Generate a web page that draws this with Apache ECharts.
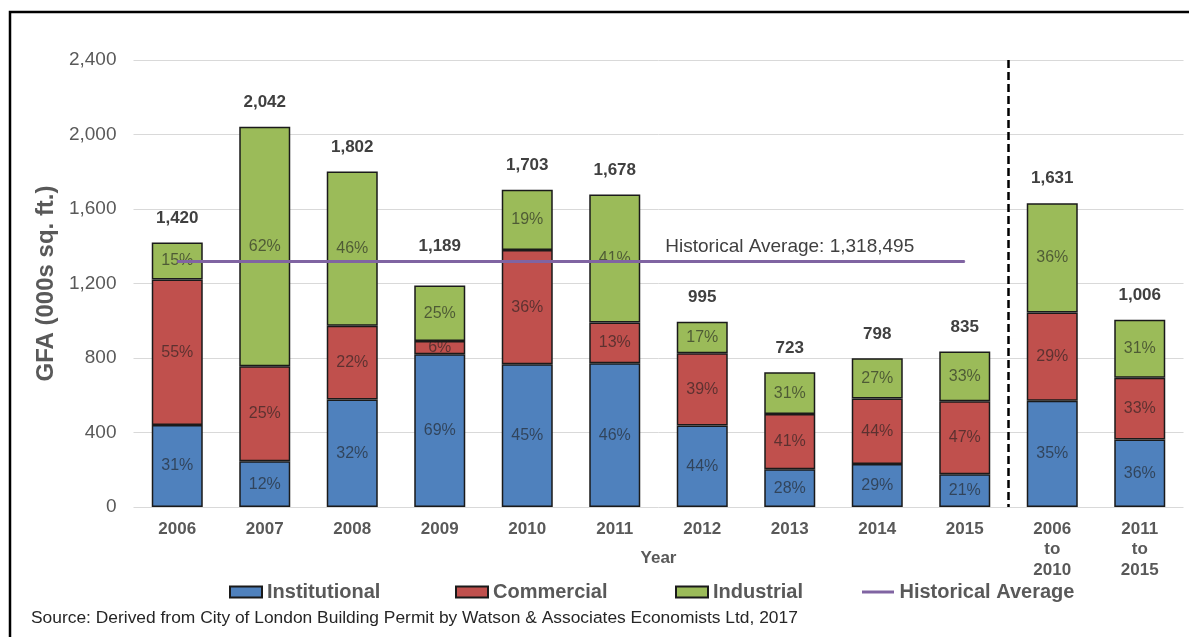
<!DOCTYPE html>
<html>
<head>
<meta charset="utf-8">
<script src="https://cdn.jsdelivr.net/npm/echarts@6/dist/echarts.min.js"></script>
<style>
  html, body { margin: 0; padding: 0; background: #ffffff; }
  #chart { width: 1189px; height: 637px; }
</style>
</head>
<body>
<div id="chart"></div>
<script>
// Gross floor area of building permits, 000s sq. ft.
const categories = ['2006', '2007', '2008', '2009', '2010', '2011', '2012', '2013', '2014', '2015',
                    '2006\nto\n2010', '2011\nto\n2015'];
const totals = [1420, 2042, 1802, 1189, 1703, 1678, 995, 723, 798, 835, 1631, 1006];

// Share of each year's total, in percent
const institutionalShare = [31, 12, 32, 69, 45, 46, 44, 28, 29, 21, 35, 36];
const commercialShare    = [55, 25, 22, 6, 36, 13, 39, 41, 44, 47, 29, 33];
const industrialShare    = [15, 62, 46, 25, 19, 41, 17, 31, 27, 33, 36, 31];

// Historical average, in sq. ft.
const historicalAverageSqFt = 1318495;
const averageYears = 10;          // the line runs across the single-year columns
const averageLabelIndex = 7;      // column the caption sits above
const liftedTotalIndex = 3;       // total label raised clear of the average line

const yTicks = { min: 0, max: 2400, interval: 400 };

// Segment sizes: institutional and commercial from their shares, industrial fills to the total
const institutional = totals.map((t, i) => t * institutionalShare[i] / 100);
const commercial = totals.map((t, i) => t * commercialShare[i] / 100);
const industrial = totals.map((t, i) => t - institutional[i] - commercial[i]);

const FONT = 'Liberation Sans';
const BLUE = '#4f81bd', RED = '#c0504d', GREEN = '#9bbb59', PURPLE = '#8064a2';

const averageValue = historicalAverageSqFt / 1000;
const averageLine = categories.map((c, i) => {
  if (i >= averageYears) return null;
  if (i === averageLabelIndex) {
    return {
      value: averageValue,
      label: {
        show: true,
        position: 'top',
        distance: 5,
        formatter: 'Historical Average: ' + historicalAverageSqFt.toLocaleString('en-US'),
        color: '#404040',
        fontSize: 19,
        fontFamily: FONT
      }
    };
  }
  return averageValue;
});

const totalData = totals.map((v, i) =>
  i === liftedTotalIndex ? { value: v, label: { distance: 31 } } : v);

const pctLabel = (shares) => ({
  show: true,
  position: 'inside',
  formatter: (p) => shares[p.dataIndex] + '%',
  color: 'rgba(30,30,30,0.62)',
  fontSize: 16,
  fontFamily: FONT
});

const barCommon = {
  type: 'bar',
  stack: 'gfa',
  barWidth: 51,
  barGap: '-100%',
  emphasis: { disabled: true }
};

const legendText = { color: '#595959', fontSize: 20, fontWeight: 'bold', fontFamily: FONT };
const legendBase = {
  top: 582, itemWidth: 32, itemHeight: 11, itemGap: 0, selectedMode: false,
  textStyle: legendText, padding: 0, icon: 'rect'
};

const chart = echarts.init(document.getElementById('chart'), null, { renderer: 'canvas' });
chart.setOption({
  animation: false,
  backgroundColor: '#ffffff',
  textStyle: { fontFamily: FONT },
  grid: { left: 133.5, right: 5.5, top: 60, bottom: 130, containLabel: false },
  xAxis: {
    type: 'category',
    data: categories,
    axisLine: { show: false },
    axisTick: { show: false },
    axisLabel: {
      color: '#595959', fontSize: 17, fontWeight: 'bold', fontFamily: FONT,
      margin: 12, lineHeight: 20.5, interval: 0
    },
    splitLine: { show: false }
  },
  yAxis: {
    type: 'value',
    min: yTicks.min,
    max: yTicks.max,
    interval: yTicks.interval,
    name: 'GFA (000s sq. ft.)',
    nameLocation: 'middle',
    nameRotate: 90,
    nameGap: 75,
    nameTextStyle: { color: '#595959', fontSize: 24, fontWeight: 'bold', fontFamily: FONT },
    axisLine: { show: false },
    axisTick: { show: false },
    axisLabel: {
      color: '#595959', fontSize: 19, fontFamily: FONT, margin: 17,
      formatter: (v) => v.toLocaleString('en-US')
    },
    splitLine: { lineStyle: { color: '#d9d9d9', width: 1 } }
  },
  legend: [
    Object.assign({}, legendBase, { left: 229, data: ['Institutional'] }),
    Object.assign({}, legendBase, { left: 455, data: ['Commercial'] }),
    Object.assign({}, legendBase, { left: 675, data: ['Industrial'] }),
    Object.assign({}, legendBase, {
      left: 862, itemHeight: 3, itemWidth: 33,
      data: [{ name: 'Historical Average', icon: 'path://M0 0 H32 V3 H0 Z' }]
    })
  ],
  series: [
    Object.assign({}, barCommon, {
      name: 'Institutional',
      data: institutional,
      itemStyle: { color: BLUE, borderColor: '#1a1a1a', borderWidth: 1.5 },
      label: pctLabel(institutionalShare)
    }),
    Object.assign({}, barCommon, {
      name: 'Commercial',
      data: commercial,
      itemStyle: { color: RED, borderColor: '#1a1a1a', borderWidth: 1.5 },
      label: pctLabel(commercialShare)
    }),
    Object.assign({}, barCommon, {
      name: 'Industrial',
      data: industrial,
      itemStyle: { color: GREEN, borderColor: '#1a1a1a', borderWidth: 1.5 },
      label: pctLabel(industrialShare)
    }),
    {
      // invisible column carrying the total above each stack
      type: 'bar',
      name: 'Total',
      data: totalData,
      barWidth: 51,
      barGap: '-100%',
      z: 1,
      itemStyle: { color: 'rgba(0,0,0,0)' },
      label: {
        show: true,
        position: 'top',
        distance: 16,
        formatter: (p) => p.value.toLocaleString('en-US'),
        color: '#404040',
        fontSize: 17,
        fontWeight: 'bold',
        fontFamily: FONT
      },
      emphasis: { disabled: true },
      silent: true
    },
    {
      type: 'line',
      name: 'Historical Average',
      data: averageLine,
      z: 5,
      symbol: 'circle',
      symbolSize: 1,
      showSymbol: true,
      color: PURPLE,
      itemStyle: { color: PURPLE },
      lineStyle: { color: PURPLE, width: 3 },
      emphasis: { disabled: true },
      silent: true
    }
  ]
});

// Frame, axis title, source note and the dashed divider between
// the single years and the five-year summaries, placed from the grid
const gridRect = chart.getModel().getComponent('grid').coordinateSystem.getRect();
const lastYearX = chart.convertToPixel({ xAxisIndex: 0 }, categories[averageYears - 1]);
const firstSummaryX = chart.convertToPixel({ xAxisIndex: 0 }, categories[averageYears]);
const dividerX = (lastYearX + firstSummaryX) / 2;

chart.setOption({
  graphic: [
    {
      type: 'rect',
      shape: { x: 10, y: 12, width: 1400, height: 800 },
      style: { fill: 'none', stroke: '#000000', lineWidth: 2.5 },
      silent: true
    },
    {
      type: 'line',
      shape: { x1: dividerX, y1: gridRect.y, x2: dividerX, y2: gridRect.y + gridRect.height },
      style: { stroke: '#000000', lineWidth: 2.5, lineDash: [8, 4] },
      silent: true
    },
    {
      type: 'text',
      x: gridRect.x + gridRect.width / 2,
      y: 558,
      style: {
        text: 'Year',
        fill: '#595959',
        fontSize: 17,
        fontWeight: 'bold',
        fontFamily: FONT,
        align: 'center',
        verticalAlign: 'middle'
      },
      silent: true
    },
    {
      type: 'text',
      left: 31,
      top: 610,
      style: {
        text: 'Source: Derived from City of London Building Permit by Watson & Associates Economists Ltd, 2017',
        fill: '#262626',
        fontSize: 17.4,
        fontFamily: FONT
      },
      silent: true
    }
  ]
});
</script>
</body>
</html>
